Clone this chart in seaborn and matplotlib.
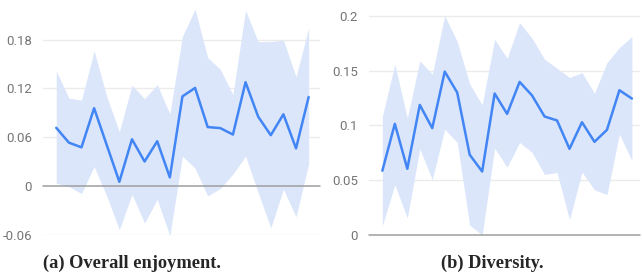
import numpy as np
import pandas as pd
import matplotlib.pyplot as plt
import seaborn as sns

# enjoyment panel
enjoy_mean = [0.0717, 0.0535, 0.0477, 0.0958, 0.0506, 0.0054, 0.0576, 0.0303, 0.0552, 0.0108,
              0.1103, 0.1207, 0.0726, 0.0713, 0.0634, 0.1277, 0.0854, 0.0626, 0.0883, 0.0464, 0.1095]
enjoy_upper = [0.1414, 0.1082, 0.1057, 0.1663, 0.1103, 0.0668, 0.1240, 0.1074, 0.1248, 0.0887,
               0.1841, 0.2173, 0.1580, 0.1435, 0.1124, 0.2160, 0.1775, 0.1775, 0.1795, 0.1343, 0.1945]
enjoy_lower = [0.0037, -0.0004, -0.0091, 0.0240, -0.0120, -0.0535, -0.0100, -0.0452, -0.0162, -0.0610,
               0.0369, 0.0220, -0.0120, -0.0029, 0.0149, 0.0369, -0.0079, -0.0514, -0.0037, -0.0377, 0.0274]
enjoy_ticks = [-0.06, 0, 0.06, 0.12, 0.18]
enjoy_ticklabels = ["-0.06", "0", "0.06", "0.12", "0.18"]

# diversity panel
div_mean = [0.0587, 0.1015, 0.0605, 0.1188, 0.0976, 0.1492, 0.1301, 0.0733, 0.0580, 0.1292,
            0.1106, 0.1398, 0.1274, 0.1082, 0.1046, 0.0787, 0.1030, 0.0851, 0.0960, 0.1322, 0.1246]
div_upper = [0.1082, 0.1560, 0.1067, 0.1590, 0.1468, 0.2003, 0.1766, 0.1380, 0.1188, 0.1787,
             0.1614, 0.1939, 0.1796, 0.1605, 0.1523, 0.1438, 0.1483, 0.1295, 0.1574, 0.1711, 0.1812]
div_lower = [0.0085, 0.0459, 0.0155, 0.0787, 0.0505, 0.0967, 0.0845, 0.0091, 0.0000, 0.0793,
             0.0620, 0.0845, 0.0754, 0.0553, 0.0571, 0.0140, 0.0574, 0.0413, 0.0368, 0.0921, 0.0678]
div_ticks = [0, 0.05, 0.1, 0.15, 0.2]
div_ticklabels = ["0", "0.05", "0.1", "0.15", "0.2"]

captions = ["(a) Overall enjoyment.", "(b) Diversity."]

blue = "#4285f4"
band = "#dbe6fb"
grid = "#ebebeb"
base = "#9e9e9e"
label_col = "#757575"

sns.set_style("white")
plt.rcParams['font.family'] = ['Roboto', 'DejaVu Sans']

fig = plt.figure(figsize=(6.42, 2.79), dpi=100)
ax1 = fig.add_axes([43 / 642, 44 / 279, 277 / 642, 235 / 279])
ax2 = fig.add_axes([369 / 642, 44 / 279, 271 / 642, 235 / 279])


def draw_panel(ax, mean, lower, upper, ticks, ticklabels, ylim):
    df = pd.DataFrame({"step": np.arange(len(mean)), "mean": mean,
                       "lower": lower, "upper": upper})
    ax.fill_between(df["step"], df["lower"], df["upper"], color=band, lw=0, zorder=1)
    sns.lineplot(data=df, x="step", y="mean", ax=ax, color=blue, lw=1.8, zorder=3)
    for t in ticks:
        if t == 0:
            ax.axhline(t, color=base, lw=1.1, zorder=2, clip_on=False)
        else:
            ax.axhline(t, color=grid, lw=1.0, zorder=0)
    ax.set_ylim(*ylim)
    ax.set_yticks(ticks)
    ax.set_yticklabels(ticklabels)
    ax.set_xticks([])
    ax.set_xlabel("")
    ax.set_ylabel("")
    ax.tick_params(axis="y", length=0, pad=8, labelsize=9.5, labelcolor=label_col)
    sns.despine(ax=ax, left=True, bottom=True)


draw_panel(ax1, enjoy_mean, enjoy_lower, enjoy_upper, enjoy_ticks, enjoy_ticklabels,
           (-0.06, 0.2287))
draw_panel(ax2, div_mean, div_lower, div_upper, div_ticks, div_ticklabels,
           (0, 0.2146))
ax1.set_xlim(-1.05, 20.9)
ax2.set_xlim(-1.07, 20.65)

for xc, cap in zip([132, 492], captions):
    fig.text(xc / 642, 1 - 263 / 279, cap, ha="center", va="center",
             fontsize=13.2, fontweight="bold", family=["Liberation Serif", "DejaVu Serif"])

fig.savefig("out.png", dpi=100)
